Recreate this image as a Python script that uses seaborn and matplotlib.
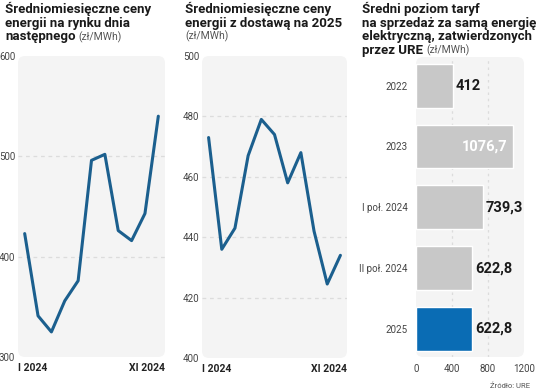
import matplotlib
matplotlib.use("Agg")
import matplotlib.pyplot as plt
from matplotlib.patches import FancyBboxPatch
import seaborn as sns

# Data
months = ['I', 'II', 'III', 'IV', 'V', 'VI', 'VII', 'VIII', 'IX', 'X', 'XI']
rdn_prices = [423, 341, 325, 356, 376, 496, 502, 426, 416, 443, 540]
fwd_prices = [473, 436, 443, 467, 479, 474, 458, 468, 442, 424.5, 434]
tariff_labels = ['2022', '2023', 'I poł. 2024', 'II poł. 2024', '2025']
tariff_values = [412, 1076.7, 739.3, 622.8, 622.8]

rdn_ticks = [300, 400, 500, 600]
fwd_ticks = [400, 420, 440, 460, 480, 500]
tariff_ticks = [0, 400, 800, 1200]

sns.set_style('white')
plt.rcParams['font.family'] = ['Roboto', 'DejaVu Sans']

W, H = 536, 392
LINE_COLOR = '#1b5f8e'
BG = '#f4f4f4'
GRID = '#dcdcdc'
TICK_COLOR = '#444444'
NARROW = ['Liberation Sans Narrow', 'Roboto', 'DejaVu Sans']

fig = plt.figure(figsize=(W / 100, H / 100), dpi=100)


def px_axes(x0, y0, x1, y1):
    # pixel box (top-left origin) -> figure axes, with a rounded light background
    bg = FancyBboxPatch((x0, H - y1), x1 - x0, y1 - y0,
                        boxstyle='round,pad=0,rounding_size=7',
                        facecolor=BG, edgecolor='none', transform=None, zorder=0)
    fig.add_artist(bg)
    return fig.add_axes([x0 / W, 1 - y1 / H, (x1 - x0) / W, (y1 - y0) / H])


def style_axes(ax):
    ax.set_facecolor('none')
    for s in ax.spines.values():
        s.set_visible(False)
    ax.tick_params(length=0, labelsize=7, labelcolor=TICK_COLOR, pad=2)


def line_panel(ax, values, yticks, grid_vals):
    style_axes(ax)
    for g in grid_vals:
        ax.axhline(g, color=GRID, lw=0.9, ls=(0, (3, 3)), zorder=1)
    sns.lineplot(x=list(range(len(values))), y=values, ax=ax, color=LINE_COLOR,
                 linewidth=2.2, zorder=3)
    ax.set_xlim(-0.5, len(values) - 0.5)
    ax.set_ylim(yticks[0], yticks[-1])
    ax.set_yticks(yticks)
    ax.set_yticklabels([str(t) for t in yticks])
    ax.set_xticks([-0.5, len(values) - 0.5])
    labs = ax.set_xticklabels([months[0] + ' 2024', months[-1] + ' 2024'],
                              fontsize=7.5, fontweight='bold', color='#222222')
    labs[0].set_ha('left')
    labs[1].set_ha('right')
    ax.tick_params(axis='x', pad=4)
    ax.set_xlabel('')
    ax.set_ylabel('')


# Panel 1: day-ahead market
ax1 = px_axes(18, 56, 165, 357)
line_panel(ax1, rdn_prices, rdn_ticks, [400, 500])

# Panel 2: forward 2025
ax2 = px_axes(202, 56, 347, 358)
line_panel(ax2, fwd_prices, fwd_ticks, [420, 440, 460, 480])

# Panel 3: tariffs
ax3 = px_axes(416, 57, 524, 357)
style_axes(ax3)
for g in tariff_ticks[1:3]:
    ax3.axvline(g, color=GRID, lw=0.9, ls=(0, (2, 3)), zorder=0)
bar_colors = ['#c8c8c8'] * 4 + ['#0a6cb4']
sns.barplot(x=tariff_values, y=tariff_labels, hue=tariff_labels, palette=bar_colors,
            legend=False, width=0.72, ax=ax3, zorder=2, saturation=1)
ax3.set_xlim(0, 1200)
ax3.set_ylim(4.46, -0.47)
ax3.set_xticks(tariff_ticks)
ax3.set_xticklabels([str(t) for t in tariff_ticks])
ax3.tick_params(axis='x', pad=5)
ax3.tick_params(axis='y', pad=6)
ax3.set_xlabel('')
ax3.set_ylabel('')
for i, v in enumerate(tariff_values):
    txt = f'{v:g}'.replace('.', ',')
    if v > 1000:
        ax3.text(v - 60, i, txt, ha='right', va='center', color='white',
                 fontsize=10.5, fontweight='bold', family=NARROW, zorder=4)
    else:
        ax3.text(v + 30, i, txt, ha='left', va='center', color='#1a1a1a',
                 fontsize=10.5, fontweight='bold', family=NARROW, zorder=4)

# Titles, one text per line
TITLE_KW = dict(fontsize=9.5, fontweight='bold', color='#1a1a1a', va='baseline', ha='left')
SUB_KW = dict(fontsize=7.5, color='#555555', va='baseline', ha='left')
LINE_H = 13.6
FIRST_BASE = 13

titles = [
    (5, ['Średniomiesięczne ceny', 'energii na rynku dnia', 'następnego'], True),
    (185, ['Średniomiesięczne ceny', 'energii z dostawą na 2025'], False),
    (362, ['Średni poziom taryf', 'na sprzedaż za samą energię',
           'elektryczną, zatwierdzonych', 'przez URE'], True),
]

fig.canvas.draw()
renderer = fig.canvas.get_renderer()

for x, lines, unit_inline in titles:
    last = None
    for k, line in enumerate(lines):
        last = fig.text(x / W, 1 - (FIRST_BASE + k * LINE_H) / H, line, **TITLE_KW)
    base = FIRST_BASE + (len(lines) - 1) * LINE_H
    if unit_inline:
        w = last.get_window_extent(renderer).width
        fig.text((x + w + 3) / W, 1 - base / H, '(zł/MWh)', **SUB_KW)
    else:
        fig.text(x / W, 1 - (base + 13) / H, '(zł/MWh)', **SUB_KW)

fig.text(530 / W, 1 - 386 / H, 'Źródło: URE', fontsize=5.5, color='#555555',
         ha='right', va='center')

fig.savefig('out.png', dpi=100)
